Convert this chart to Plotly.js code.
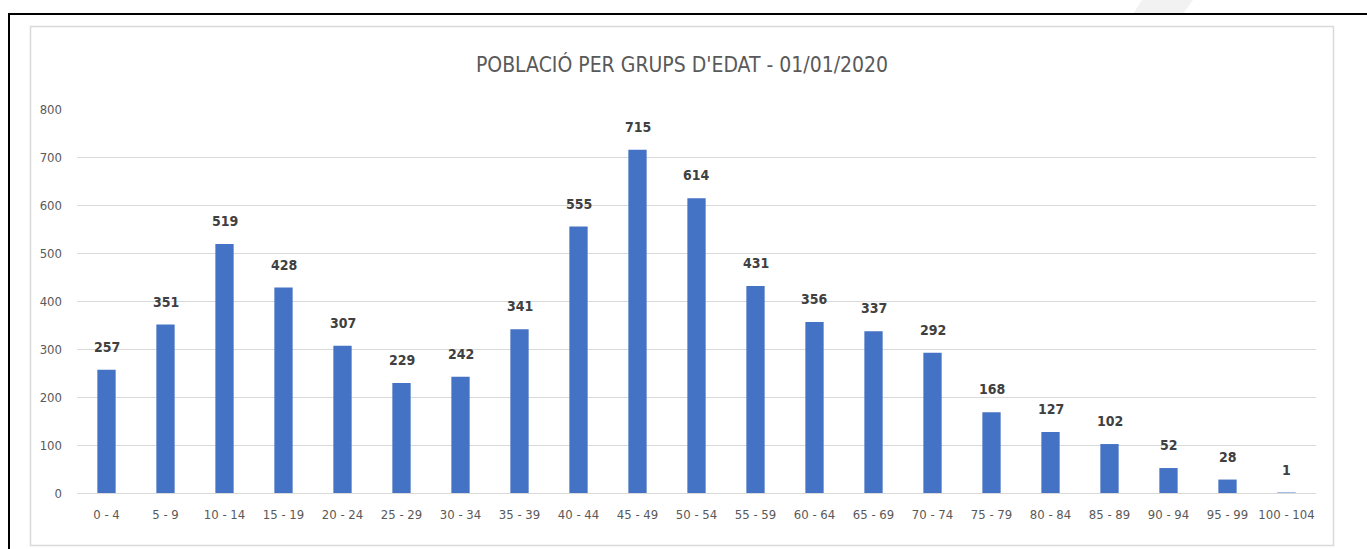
<!DOCTYPE html>
<html>
<head>
<meta charset="utf-8">
<script src="https://cdn.plot.ly/plotly-3.0.1.min.js"></script>
<style>html,body{margin:0;padding:0;background:#fff;}#chart{width:1367px;height:549px;}</style>
</head>
<body>
<div id="chart"></div>
<script>
const categories = ["0 - 4","5 - 9","10 - 14","15 - 19","20 - 24","25 - 29","30 - 34","35 - 39","40 - 44","45 - 49","50 - 54","55 - 59","60 - 64","65 - 69","70 - 74","75 - 79","80 - 84","85 - 89","90 - 94","95 - 99","100 - 104"];
const population = [257,351,519,428,307,229,242,341,555,715,614,431,356,337,292,168,127,102,52,28,1];
const yTicks = [0,100,200,300,400,500,600,700,800];
const titleText = "POBLACIÓ PER GRUPS D'EDAT - 01/01/2020";

const W = 1367, H = 549, L = 77, R = 1316, B = 493, T = 109;
const px = x => (x - L) / (R - L);
const py = y => (B - y) / (B - T);
const FONT = "'Liberation Sans Narrow','DejaVu Sans Condensed','Open Sans',sans-serif";

const trace = {
  type: 'bar',
  x: categories,
  y: population,
  marker: {color: '#4472c4'},
  hoverinfo: 'x+y'
};

const labels = categories.map((c, i) => ({
  x: c, y: population[i], xref: 'x', yref: 'y',
  text: String(population[i]), showarrow: false,
  yanchor: 'middle', xanchor: 'center', yshift: 23,
  font: {family: FONT, size: 14, color: '#404040', weight: 700}
}));

const layout = {
  width: W, height: H,
  margin: {l: L, r: W - R, t: T, b: H - B, pad: 0},
  paper_bgcolor: '#ffffff', plot_bgcolor: '#ffffff',
  bargap: 0.69,
  showlegend: false,
  title: {text: titleText, x: 682 / W, xref: 'container', xanchor: 'center', y: 1 - 65/H, yanchor: 'middle',
          font: {family: FONT, size: 21, color: '#595959'}},
  xaxis: {type: 'category', showgrid: false, zeroline: false, showline: false, ticks: '',
          tickfont: {family: FONT, size: 13, color: '#595959'}, ticklabelstandoff: 12, fixedrange: true},
  yaxis: {range: [0, 800], tickvals: yTicks, showgrid: true, gridcolor: '#d9d9d9', gridwidth: 1,
          zeroline: true, zerolinecolor: '#d9d9d9', zerolinewidth: 1, showline: false, ticks: '',
          tickfont: {family: FONT, size: 13, color: '#595959'}, ticklabelstandoff: 14, fixedrange: true},
  annotations: labels,
  shapes: [
    {type: 'path', xref: 'paper', yref: 'paper', layer: 'below',
     path: `M ${px(1133)} ${py(14)} L ${px(1142)} ${py(0)} L ${px(1193)} ${py(0)} L ${px(1183)} ${py(14)} Z`,
     fillcolor: '#f2f2f2', line: {width: 0}},
    {type: 'rect', xref: 'paper', yref: 'paper', layer: 'below',
     x0: px(30.5), x1: px(1333.5), y0: py(545.5), y1: py(26.5),
     line: {color: '#d9d9d9', width: 1.5}, fillcolor: 'rgba(0,0,0,0)'},
    {type: 'line', xref: 'paper', yref: 'paper',
     x0: px(9), x1: px(1367), y0: py(14), y1: py(14), line: {color: '#000000', width: 2}},
    {type: 'line', xref: 'paper', yref: 'paper',
     x0: px(9), x1: px(9), y0: py(13), y1: py(549), line: {color: '#000000', width: 2}}
  ]
};

Plotly.newPlot('chart', [trace], layout, {displayModeBar: false, staticPlot: true});
</script>
</body>
</html>
